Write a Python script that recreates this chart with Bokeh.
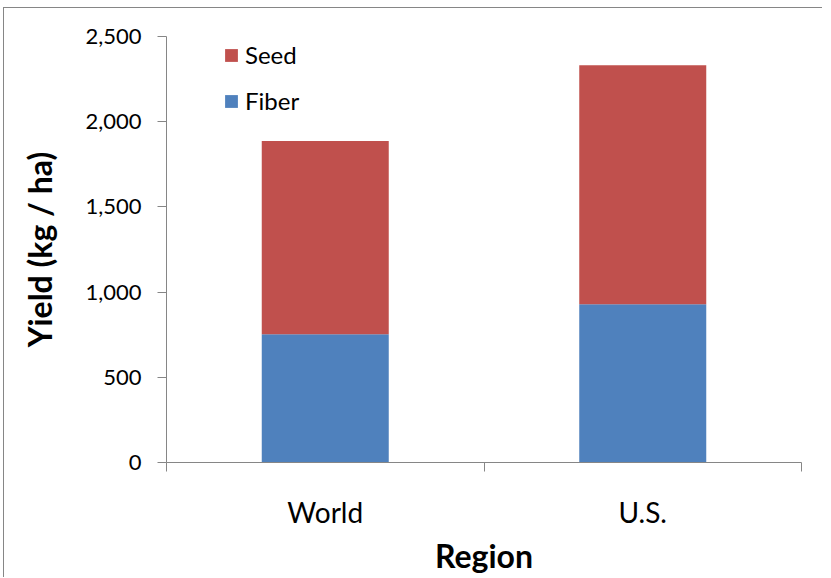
from bokeh.plotting import figure
from bokeh.models import (ColumnDataSource, Range1d, FixedTicker, NumeralTickFormatter,
                          Legend, LegendItem)
from bokeh.embed import file_html
from bokeh.resources import INLINE

# ---- data ----
regions = ["World", "U.S."]
fiber = [752, 928]
seed = [1135, 1403]
y_ticks = [0, 500, 1000, 1500, 2000, 2500]
series = ["Fiber", "Seed"]
colors = ["#4F81BD", "#C0504D"]

FONT = "Lato"
AXIS_COLOR = "#868686"

xpos = [i + 0.5 for i in range(len(regions))]
source = ColumnDataSource(dict(x=xpos, Fiber=fiber, Seed=seed))

p = figure(width=819, height=570,
           x_range=Range1d(0, len(regions)), y_range=Range1d(0, 2500),
           output_backend="svg", toolbar_location=None,
           min_border_left=162, min_border_top=28, min_border_right=22,
           min_border_bottom=116)
p.styles = {"margin-left": "3px", "margin-top": "7px",
            "border-left": "1px solid #868686", "border-top": "1px solid #868686"}

renderers = p.vbar_stack(series, x="x", width=0.4, color=colors, source=source,
                         line_width=0)

p.outline_line_color = None
p.xgrid.visible = False
p.ygrid.visible = False

# y axis
ya = p.yaxis[0]
ya.ticker = FixedTicker(ticks=y_ticks)
ya.formatter = NumeralTickFormatter(format="0,0")
ya.axis_line_color = AXIS_COLOR
ya.major_tick_line_color = AXIS_COLOR
ya.major_tick_out = 9
ya.major_tick_in = 0
ya.minor_tick_line_color = None
ya.major_label_text_font = FONT
ya.major_label_text_font_size = "22px"
ya.major_label_text_color = "#000000"
ya.major_label_standoff = 16
ya.axis_label = "Yield (kg / ha)"
ya.axis_label_text_font = FONT
ya.axis_label_text_font_style = "bold"
ya.axis_label_text_font_size = "32px"
ya.axis_label_text_color = "#000000"
ya.axis_label_standoff = 23

# x axis: boundary ticks as minor ticks, labels at the category centres
xa = p.xaxis[0]
xa.ticker = FixedTicker(ticks=xpos, minor_ticks=list(range(len(regions) + 1)))
xa.major_label_overrides = {x: r for x, r in zip(xpos, regions)}
xa.axis_line_color = AXIS_COLOR
xa.major_tick_line_color = None
xa.major_tick_out = 9
xa.major_tick_in = 0
xa.minor_tick_line_color = AXIS_COLOR
xa.minor_tick_out = 9
xa.minor_tick_in = 0
xa.major_label_text_font = FONT
xa.major_label_text_font_size = "28px"
xa.major_label_text_color = "#000000"
xa.major_label_standoff = 23
xa.axis_label = "Region"
xa.axis_label_text_font = FONT
xa.axis_label_text_font_style = "bold"
xa.axis_label_text_font_size = "32px"
xa.axis_label_text_color = "#000000"
xa.axis_label_standoff = 4

legend = Legend(items=[LegendItem(label="Seed", renderers=[renderers[1]]),
                       LegendItem(label="Fiber", renderers=[renderers[0]])],
                location=(57, 347), orientation="vertical",
                glyph_width=16, glyph_height=16, label_standoff=6,
                spacing=17, padding=0, margin=0,
                border_line_color=None, background_fill_alpha=0,
                label_text_font=FONT, label_text_font_size="24px",
                label_text_color="#000000")
p.add_layout(legend)

open("out.html", "w").write(file_html(p, INLINE))
